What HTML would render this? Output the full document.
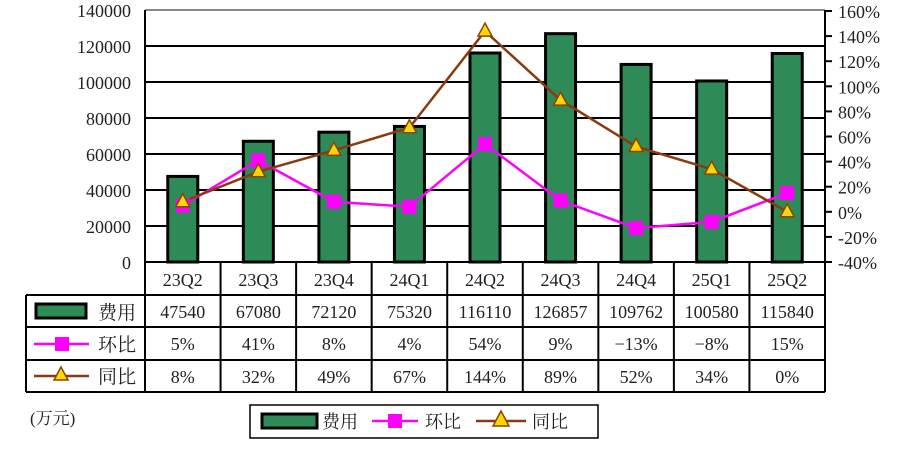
<!DOCTYPE html>
<html><head><meta charset="utf-8"><style>
html,body{margin:0;padding:0;background:#fff;}
svg text{font-family:"Liberation Serif","Noto Serif CJK SC",serif;fill:#222;}
</style></head><body>
<svg id="chart" width="906" height="456" viewBox="0 0 906 456">
<g id="grid"></g><g id="bars"></g><g id="lines"></g><g id="axes"></g><g id="table"></g>
<text x="30" y="424" font-size="17">(万元)</text>
<g>
<rect x="250" y="405" width="348" height="33" fill="#fff" stroke="#000" stroke-width="1.5"/>
<rect x="262" y="414" width="55" height="14" fill="#2e8b57" stroke="#000" stroke-width="3"/>
<text x="322" y="428" font-size="18">费用</text>
<line x1="372" y1="421" x2="418" y2="421" stroke="#ff00ff" stroke-width="2.5"/>
<rect x="388" y="414" width="14" height="14" fill="#ff00ff"/>
<text x="425" y="428" font-size="18">环比</text>
<line x1="476" y1="421" x2="526" y2="421" stroke="#8b3a0f" stroke-width="2.5"/>
<polygon points="501,411 509,426 493,426" fill="#ffd700" stroke="#8b4500" stroke-width="1.5"/>
<text x="532" y="428" font-size="18">同比</text>
</g>
</svg>
<script>
const categories=["23Q2","23Q3","23Q4","24Q1","24Q2","24Q3","24Q4","25Q1","25Q2"];
const fees=[47540,67080,72120,75320,116110,126857,109762,100580,115840];
const qoq=[5,41,8,4,54,9,-13,-8,15];
const yoy=[8,32,49,67,144,89,52,34,0];
const leftTicks=[0,20000,40000,60000,80000,100000,120000,140000];
const rightTicks=[-40,-20,0,20,40,60,80,100,120,140,160];
const NS="http://www.w3.org/2000/svg";
const X0=145,X1=825,Y0=262,YT=10;
const cw=(X1-X0)/categories.length;
const xc=i=>X0+cw*(i+0.5);
const yL=v=>Y0-(v/140000)*(Y0-YT);
const yR=v=>Y0-((v+40)/200)*(Y0-11);
function mk(tag,attrs,parent,txt){const e=document.createElementNS(NS,tag);for(const k in attrs)e.setAttribute(k,attrs[k]);if(txt!==undefined)e.textContent=txt;parent.appendChild(e);return e;}
const grid=document.getElementById('grid'),bars=document.getElementById('bars'),lines=document.getElementById('lines'),axes=document.getElementById('axes'),table=document.getElementById('table');
leftTicks.forEach(t=>{
  if(t>0&&t<140000){const l=mk('line',{x1:X0,x2:X1,y1:yL(t),y2:yL(t),stroke:'#000','stroke-width':2},grid);
  
  }
  const tx=mk('text',{x:131,y:yL(t)+7,'font-size':18,'text-anchor':'end'},axes,String(t));
  
  
});
mk('line',{x1:X0,x2:X1,y1:YT,y2:YT,stroke:'#888','stroke-width':2},grid);
rightTicks.forEach(t=>{
  mk('line',{x1:X1,x2:X1+7,y1:yR(t),y2:yR(t),stroke:'#000','stroke-width':2},axes);
  const tx=mk('text',{x:838,y:yR(t)+7,'font-size':18},axes,t+'%');
  
  
});
mk('line',{x1:X0,x2:X0,y1:YT,y2:Y0,stroke:'#000','stroke-width':2},axes);
mk('line',{x1:X1,x2:X1,y1:YT,y2:Y0,stroke:'#000','stroke-width':2},axes);
fees.forEach((v,i)=>{
  const r=mk('rect',{x:xc(i)-15,y:yL(v),width:30,height:Y0-yL(v),fill:'#2e8b57',stroke:'#000','stroke-width':3},bars);
  
  
});
const pq=mk('polyline',{points:qoq.map((v,i)=>xc(i)+','+yR(v)).join(' '),fill:'none',stroke:'#ff00ff','stroke-width':2.5},lines);


const py=mk('polyline',{points:yoy.map((v,i)=>xc(i)+','+yR(v)).join(' '),fill:'none',stroke:'#8b3a0f','stroke-width':2.5},lines);


qoq.forEach((v,i)=>{
  const m=mk('rect',{x:xc(i)-7,y:yR(v)-7,width:14,height:14,fill:'#ff00ff'},lines);
  
  
});
yoy.forEach((v,i)=>{
  const x=xc(i),y=yR(v);
  const m=mk('polygon',{points:`${x},${y-8} ${x+7},${y+5} ${x-7},${y+5}`,fill:'#ffd700',stroke:'#8b4500','stroke-width':1.5},lines);
  
  
});
// table
const rows=[295,327,360,392];
mk('line',{x1:X0,x2:X1,y1:Y0,y2:Y0,stroke:'#000','stroke-width':2},table);
rows.forEach(y=>mk('line',{x1:26,x2:X1,y1:y,y2:y,stroke:'#000','stroke-width':2},table));
mk('line',{x1:26,x2:26,y1:295,y2:392,stroke:'#000','stroke-width':2},table);
for(let i=0;i<=categories.length;i++)mk('line',{x1:X0+cw*i,x2:X0+cw*i,y1:Y0,y2:392,stroke:'#000','stroke-width':2},table);
const fmt=v=>(v<0?'−'+(-v):v)+'%';
categories.forEach((c,i)=>{
  const t=mk('text',{x:xc(i),y:286,'font-size':18,'text-anchor':'middle'},table,c);
  
  
  mk('text',{x:xc(i),y:318,'font-size':18,'text-anchor':'middle'},table,String(fees[i]));
  mk('text',{x:xc(i),y:350,'font-size':18,'text-anchor':'middle'},table,fmt(qoq[i]));
  mk('text',{x:xc(i),y:383,'font-size':18,'text-anchor':'middle'},table,fmt(yoy[i]));
});
mk('rect',{x:36,y:304,width:50,height:14,fill:'#2e8b57',stroke:'#000','stroke-width':3},table);
mk('text',{x:98,y:319,'font-size':19},table,'费用');
mk('line',{x1:34,x2:89,y1:344,y2:344,stroke:'#ff00ff','stroke-width':2.5},table);
mk('rect',{x:55,y:337,width:14,height:14,fill:'#ff00ff'},table);
mk('text',{x:98,y:351,'font-size':19},table,'环比');
mk('line',{x1:34,x2:89,y1:376,y2:376,stroke:'#8b3a0f','stroke-width':2.5},table);
mk('polygon',{points:'61,367 68,380 54,380',fill:'#ffd700',stroke:'#8b4500','stroke-width':1.5},table);
mk('text',{x:98,y:383,'font-size':19},table,'同比');
</script>
</body></html>
